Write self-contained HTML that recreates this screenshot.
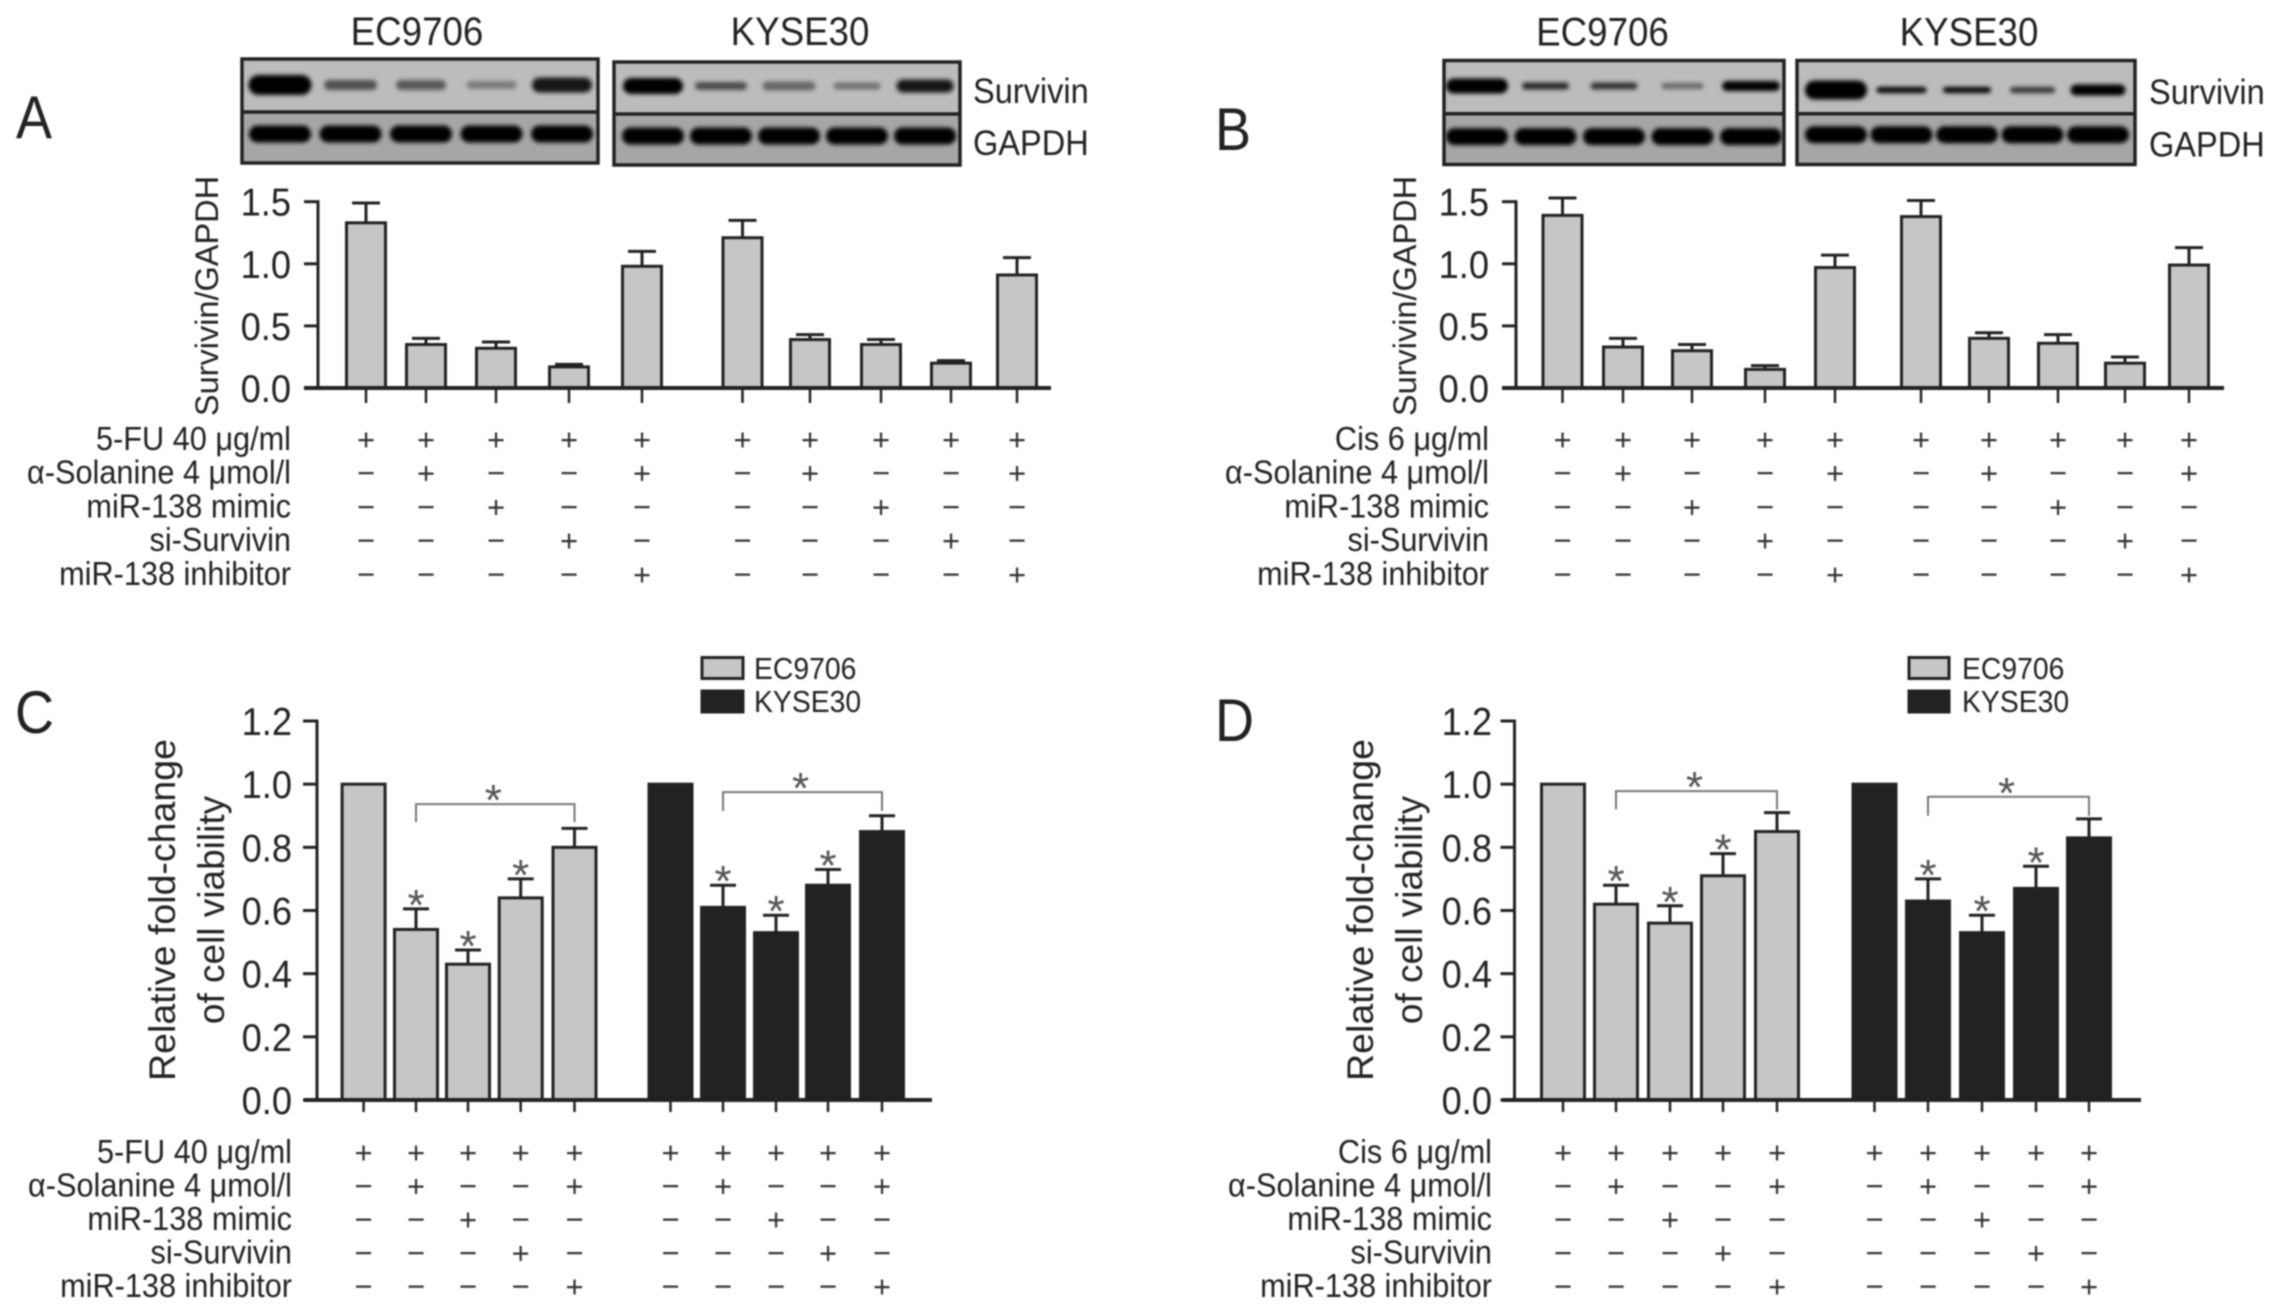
<!DOCTYPE html>
<html lang="en">
<head>
<meta charset="utf-8">
<title>Survivin expression and cell viability panels</title>
<style>
html,body{margin:0;padding:0;background:#fff;width:2280px;height:1313px;overflow:hidden}
svg{display:block;filter:blur(0.7px)}
text{font-family:"Liberation Sans",sans-serif;fill:#222}
</style>
</head>
<body>
<svg id="figure" xmlns="http://www.w3.org/2000/svg" width="2280" height="1313" viewBox="0 0 2280 1313">
  <defs>
    <filter id="band-blur" x="-30%" y="-100%" width="160%" height="300%"><feGaussianBlur stdDeviation="2"/></filter>
  </defs>
  <rect width="2280" height="1313" fill="#ffffff"/>
</svg>
<script>
// ---- chart data ----
const cellLines = ['EC9706', 'KYSE30'];
const blotLabels = ['Survivin', 'GAPDH'];
const rowLabelsFU = ['5-FU 40 \u03bcg/ml', '\u03b1-Solanine 4 \u03bcmol/l', 'miR-138 mimic', 'si-Survivin', 'miR-138 inhibitor'];
const rowLabelsCis = ['Cis 6 \u03bcg/ml', '\u03b1-Solanine 4 \u03bcmol/l', 'miR-138 mimic', 'si-Survivin', 'miR-138 inhibitor'];
const treatmentRows = [
  ['+','+','+','+','+','+','+','+','+','+'],
  ['\u2212','+','\u2212','\u2212','+','\u2212','+','\u2212','\u2212','+'],
  ['\u2212','\u2212','+','\u2212','\u2212','\u2212','\u2212','+','\u2212','\u2212'],
  ['\u2212','\u2212','\u2212','+','\u2212','\u2212','\u2212','\u2212','+','\u2212'],
  ['\u2212','\u2212','\u2212','\u2212','+','\u2212','\u2212','\u2212','\u2212','+']
];

const ratioTicks = [0, 0.5, 1.0, 1.5];
const ratioTickLabels = ['0.0', '0.5', '1.0', '1.5'];
const viabilityTicks = [0, 0.2, 0.4, 0.6, 0.8, 1.0, 1.2];
const viabilityTickLabels = ['0.0', '0.2', '0.4', '0.6', '0.8', '1.0', '1.2'];

const panelAValues = [1.33, 0.35, 0.32, 0.17, 0.98, 1.21, 0.39, 0.35, 0.20, 0.91];
const panelAErrors = [0.16, 0.05, 0.05, 0.02, 0.12, 0.14, 0.04, 0.04, 0.02, 0.14];
const panelBValues = [1.39, 0.33, 0.30, 0.15, 0.97, 1.38, 0.40, 0.36, 0.20, 0.99];
const panelBErrors = [0.14, 0.07, 0.05, 0.03, 0.10, 0.13, 0.045, 0.07, 0.05, 0.14];
const panelCValues = [1.0, 0.54, 0.43, 0.64, 0.80, 1.0, 0.61, 0.53, 0.68, 0.85];
const panelCErrors = [0, 0.065, 0.045, 0.06, 0.06, 0, 0.07, 0.055, 0.05, 0.05];
const panelCStars = [0, 1, 1, 1, 0, 0, 1, 1, 1, 0];
const panelDValues = [1.0, 0.62, 0.56, 0.71, 0.85, 1.0, 0.63, 0.53, 0.67, 0.83];
const panelDErrors = [0, 0.06, 0.055, 0.07, 0.06, 0, 0.07, 0.055, 0.07, 0.06];
const panelDStars = [0, 1, 1, 1, 0, 0, 1, 1, 1, 0];

// significance brackets: first bar, last bar, line level, leg-end level (axis units)
const panelCBrackets = [[1, 4, 0.937, 0.88], [6, 9, 0.975, 0.915]];
const panelDBrackets = [[1, 4, 0.978, 0.92], [6, 9, 0.96, 0.90]];

// western blot survivin bands: intensity (0 faint .. 1 saturated)
const blotA1Survivin = [1.0, 0.55, 0.5, 0.3, 0.88];
const blotA2Survivin = [1.0, 0.58, 0.42, 0.36, 0.88];
const blotB1Survivin = [1.0, 0.8, 0.72, 0.42, 1.0];
const blotB2Survivin = [1.0, 1.0, 1.0, 0.72, 1.0];
const blotGapdh = [1.0, 1.0, 1.0, 1.0, 1.0];

// ---- band shapes ----
const bandShapeA1 = { w: [63, 53, 50, 50, 60], h: [20, 10, 10, 8, 15] };
const bandShapeA2 = { w: [60, 52, 53, 47, 57], h: [16, 8, 9, 7, 13] };
const bandShapeB1 = { w: [62, 47, 47, 42, 58], h: [15, 7, 7, 6, 10] };
const bandShapeB2 = { w: [62, 50, 48, 45, 55], h: [19, 6, 6, 6, 11] };

// ---- axis functions ----
function scaleY(domainMax, pixelZero, pixelMax) {
  return function (v) { return pixelZero - (v / domainMax) * (pixelZero - pixelMax); };
}
const slotsA = function (i) { return [366, 426, 496, 569, 642, 742.5, 810, 881, 951, 1017][i]; };
const slotsB = function (i) { return [1562.5, 1623, 1692, 1765, 1835, 1921, 1989, 2058, 2125, 2189][i]; };
const slotsC = function (i) { return [363.6, 416, 468, 520.7, 574.5, 670.5, 723, 776, 828, 882][i]; };
const slotsD = function (i) { return [1563, 1616, 1670, 1723, 1777, 1874.5, 1928, 1982, 2036, 2089][i]; };

const svg = document.getElementById('figure');
const NS = 'http://www.w3.org/2000/svg';
const INK = '#222222';
const LIGHT = '#c6c6c6';

function mk(tag, attrs, parent, txt) {
  const n = document.createElementNS(NS, tag);
  for (const k in attrs) n.setAttribute(k, attrs[k]);
  if (txt !== undefined) n.textContent = txt;
  (parent || svg).appendChild(n);
  return n;
}
function place(x, y, sx) { return 'translate(' + x + ' ' + y + ') scale(' + sx + ' 1)'; }

function drawBlot(p, box, dividerY, survivin, shape, laneStart, laneStep, survivinY, gapdhY) {
  let el = mk('g', {}, p);
  
  
  const g = el;
  el = mk('rect', { x: box[0], y: box[1], width: box[2] - box[0], height: dividerY - box[1], fill: '#bcbcbc' }, g);
  
  
  el = mk('rect', { x: box[0], y: dividerY, width: box[2] - box[0], height: box[3] - dividerY, fill: '#a6a6a6' }, g);
  
  
  survivin.forEach(function (v, i) {
    const w = shape.w[i], h = shape.h[i], shade = Math.round(175 - 173 * v);
    const b = mk('rect', { x: laneStart + laneStep * i - w / 2, y: survivinY - h / 2, width: w, height: h, rx: h / 2, fill: 'rgb(' + shade + ',' + shade + ',' + shade + ')', filter: 'url(#band-blur)' }, g);
    
    
  });
  blotGapdh.forEach(function (v, i) {
    const w = 62, h = 17, shade = Math.round(20 - 18 * v);
    const b = mk('rect', { x: laneStart + laneStep * i - w / 2, y: gapdhY - h / 2, width: w, height: h, rx: h / 2, fill: 'rgb(' + shade + ',' + shade + ',' + shade + ')', filter: 'url(#band-blur)' }, g);
    
    
  });
  el = mk('rect', { x: box[0], y: box[1], width: box[2] - box[0], height: box[3] - box[1], fill: 'none', stroke: INK, 'stroke-width': 3.5 }, g);
  
  
  el = mk('line', { x1: box[0], x2: box[2], y1: dividerY, y2: dividerY, stroke: INK, 'stroke-width': 3.5 }, g);
  
  
}

function drawPanel(s) {
  const p = mk('g', {});
  
  
  let el;

  el = mk('text', { transform: place(s.letterX, s.letterY, 0.9), 'font-size': 60 }, p, s.letter);
  
  

  // y axis
  const y = s.y;
  const topTick = s.ticks[s.ticks.length - 1];
  el = mk('line', { x1: s.axisX, x2: s.axisX, y1: y(topTick) - 1.5, y2: y(0), stroke: INK, 'stroke-width': 3 }, p);
  
  
  s.ticks.forEach(function (t, i) {
    const m = mk('line', { x1: s.axisX - 14, x2: s.axisX, y1: y(t), y2: y(t), stroke: INK, 'stroke-width': 3 }, p);
    
    
    const l = mk('text', { transform: place(s.tickLabelX, y(t) + 14, 0.93), 'font-size': 39, 'text-anchor': 'end' }, p, s.tickLabels[i]);
    
    
  });

  // y title(s)
  s.titles.forEach(function (t) {
    const l = mk('text', { transform: 'translate(' + t.x + ' ' + t.y + ') rotate(-90)', 'font-size': t.size, 'text-anchor': 'middle' }, p, t.text);
    
    
  });

  // bars
  s.values.forEach(function (v, i) {
    const cx = s.x(i);
    const fill = s.colorByGroup && i >= 5 ? INK : LIGHT;
    const top = v + s.errors[i];
    if (s.errors[i] > 0) {
      const e = mk('line', { x1: cx, x2: cx, y1: y(top), y2: y(v), stroke: INK, 'stroke-width': 3 }, p);
      
      
      const c = mk('line', { x1: cx - s.capHalf, x2: cx + s.capHalf, y1: y(top), y2: y(top), stroke: INK, 'stroke-width': 3 }, p);
      
      
    }
    const b = mk('rect', { x: cx - s.barW / 2, y: y(v), width: s.barW, height: y(0) - y(v), fill: fill, stroke: INK, 'stroke-width': 3 }, p);
    
    
    const k = mk('line', { x1: cx, x2: cx, y1: y(0), y2: y(0) + s.tickLen, stroke: INK, 'stroke-width': 2.5 }, p);
    
    
    if (s.stars && s.stars[i]) {
      const a = mk('text', { x: cx, y: y(top) - 13 + 24, 'font-size': 44, 'text-anchor': 'middle', style: 'fill:#555' }, p, '*');
      
      
    }
  });

  // x axis
  el = mk('line', { x1: s.xAxis[0], x2: s.xAxis[1], y1: y(0), y2: y(0), stroke: INK, 'stroke-width': 4 }, p);
  
  

  // brackets
  (s.brackets || []).forEach(function (br) {
    const x1 = s.x(br[0]), x2 = s.x(br[1]);
    const d = 'M' + x1 + ' ' + y(br[3]) + 'V' + y(br[2]) + 'H' + x2 + 'V' + y(br[3]);
    const b = mk('path', { d: d, fill: 'none', stroke: '#777', 'stroke-width': 2 }, p);
    
    
    const a = mk('text', { x: (x1 + x2) / 2 - 2, y: y(br[2]) - 13 + 24, 'font-size': 44, 'text-anchor': 'middle', style: 'fill:#555' }, p, '*');
    
    
  });

  // treatment table
  s.rowLabels.forEach(function (label, r) {
    const l = mk('text', { transform: place(s.rowLabelX, s.rowY(r) + 9, 0.93), 'font-size': 33, 'text-anchor': 'end' }, p, label);
    
    
    treatmentRows[r].forEach(function (mark, i) {
      const t = mk('text', { x: s.x(i), y: s.rowY(r) + 9, 'font-size': 31, 'text-anchor': 'middle', style: 'fill:#333' }, p, mark);
      
      
    });
  });

  return p;
}

function drawBlotLabels(p, x, survY, gapY) {
  let el = mk('text', { transform: place(x, survY + 12, 0.93), 'font-size': 35 }, p, blotLabels[0]);
  
  
  el = mk('text', { transform: place(x, gapY + 12, 0.93), 'font-size': 35 }, p, blotLabels[1]);
  
  
}

function drawCellTitles(p, x1, x2, cy) {
  let el = mk('text', { transform: place(x1, cy + 13, 0.93), 'font-size': 39.5, 'text-anchor': 'middle' }, p, cellLines[0]);
  
  
  el = mk('text', { transform: place(x2, cy + 13, 0.93), 'font-size': 39.5, 'text-anchor': 'middle' }, p, cellLines[1]);
  
  
}

function drawLegend(p, swX, swW, textX) {
  let el = mk('rect', { x: swX, y: 657.5, width: swW, height: 21, fill: LIGHT, stroke: INK, 'stroke-width': 3 }, p);
  
  
  el = mk('text', { transform: place(textX, 679, 0.93), 'font-size': 30.5 }, p, cellLines[0]);
  
  
  el = mk('rect', { x: swX, y: 691, width: swW, height: 21, fill: INK, stroke: INK, 'stroke-width': 3 }, p);
  
  
  el = mk('text', { transform: place(textX, 712, 0.93), 'font-size': 30.5 }, p, cellLines[1]);
  
  
}

const topY = scaleY(1.5, 388, 201.7);
const lowY = scaleY(1.2, 1100, 721);
const topRow = function (r) { return 441 + 33.7 * r; };
const lowRow = function (r) { return 1154 + 33.5 * r; };

const panelA = drawPanel({
  name: 'panel-a', letter: 'A', letterX: 16, letterY: 138,
  y: topY, x: slotsA, axisX: 318, xAxis: [304, 1051], ticks: ratioTicks, tickLabels: ratioTickLabels, tickLabelX: 291,
  titles: [{ x: 218, y: 296, size: 32.5, text: 'Survivin/GAPDH' }],
  values: panelAValues, errors: panelAErrors, barW: 39, capHalf: 14, tickLen: 15,
  rowLabels: rowLabelsFU, rowLabelX: 291, rowY: topRow
});
drawBlot(panelA, [242, 59, 598, 163], 112, blotA1Survivin, bandShapeA1, 280, 70.5, 85, 134);
drawBlot(panelA, [614, 62, 960, 165], 114, blotA2Survivin, bandShapeA2, 653, 68, 86, 136);
drawBlotLabels(panelA, 973, 91, 143);
drawCellTitles(panelA, 417, 800, 32);

const panelB = drawPanel({
  name: 'panel-b', letter: 'B', letterX: 1215, letterY: 150,
  y: topY, x: slotsB, axisX: 1516, xAxis: [1502, 2224], ticks: ratioTicks, tickLabels: ratioTickLabels, tickLabelX: 1489,
  titles: [{ x: 1416, y: 296, size: 32.5, text: 'Survivin/GAPDH' }],
  values: panelBValues, errors: panelBErrors, barW: 39, capHalf: 14, tickLen: 15,
  rowLabels: rowLabelsCis, rowLabelX: 1489, rowY: topRow
});
drawBlot(panelB, [1444, 60.5, 1784, 164.5], 113.7, blotB1Survivin, bandShapeB1, 1477, 68.5, 86, 136.6);
drawBlot(panelB, [1797, 60.5, 2135, 164.5], 113.7, blotB2Survivin, bandShapeB2, 1836, 65.5, 90, 134.7);
drawBlotLabels(panelB, 2149, 92, 144.7);
drawCellTitles(panelB, 1602.5, 1969, 32.5);

const panelC = drawPanel({
  name: 'panel-c', letter: 'C', letterX: 15, letterY: 733,
  y: lowY, x: slotsC, axisX: 317, xAxis: [304, 932], ticks: viabilityTicks, tickLabels: viabilityTickLabels, tickLabelX: 292,
  titles: [{ x: 175, y: 910, size: 37.5, text: 'Relative fold-change' }, { x: 224, y: 910, size: 37, text: 'of cell viability' }],
  values: panelCValues, errors: panelCErrors, stars: panelCStars, colorByGroup: true, barW: 43, capHalf: 13, tickLen: 12,
  brackets: panelCBrackets,
  rowLabels: rowLabelsFU, rowLabelX: 292, rowY: lowRow
});
drawLegend(panelC, 702, 41, 754);

const panelD = drawPanel({
  name: 'panel-d', letter: 'D', letterX: 1215, letterY: 741,
  y: lowY, x: slotsD, axisX: 1514.5, xAxis: [1502, 2141], ticks: viabilityTicks, tickLabels: viabilityTickLabels, tickLabelX: 1492,
  titles: [{ x: 1373, y: 910, size: 37.5, text: 'Relative fold-change' }, { x: 1422, y: 910, size: 37, text: 'of cell viability' }],
  values: panelDValues, errors: panelDErrors, stars: panelDStars, colorByGroup: true, barW: 43, capHalf: 13, tickLen: 12,
  brackets: panelDBrackets,
  rowLabels: rowLabelsCis, rowLabelX: 1492, rowY: lowRow
});
drawLegend(panelD, 1909, 40, 1962);
</script>
</body>
</html>
